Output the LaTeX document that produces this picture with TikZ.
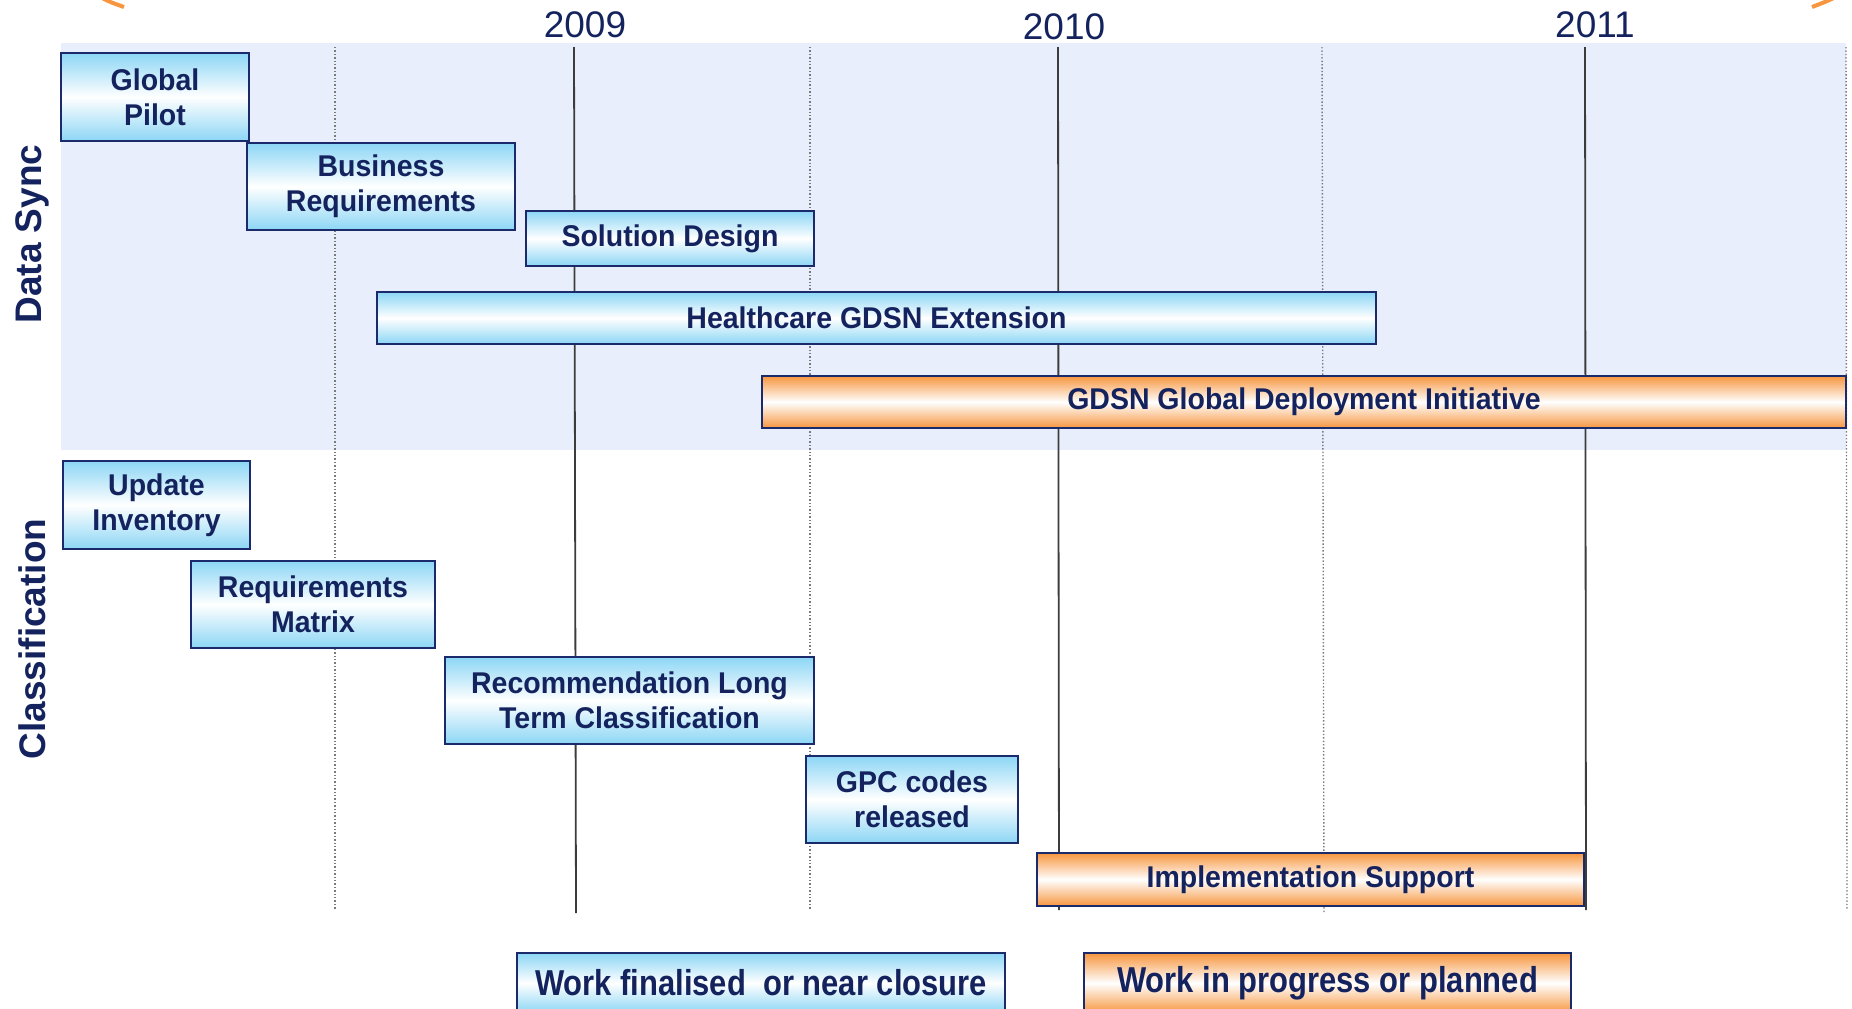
\documentclass[tikz,border=0pt]{standalone}
\usepackage{fontspec}
\setmainfont{Liberation Sans}
\newfontfamily\boxfont[FakeStretch=0.95]{Liberation Sans}
\newfontfamily\legfont[FakeStretch=0.86]{Liberation Sans}
\definecolor{navy}{HTML}{14235E}
\definecolor{boxedge}{HTML}{1B2A6B}
\definecolor{skyb}{HTML}{8CD6F5}
\definecolor{orng}{HTML}{F7963F}
\definecolor{bandc}{HTML}{E8EEFB}
\definecolor{solidg}{HTML}{3C3C3C}
\definecolor{dotg}{HTML}{7A7A7A}
\tikzset{
  taskbox/.style={draw=boxedge, line width=0.9pt, inner sep=0pt, align=center,
    text=navy, font=\boxfont\bfseries\fontsize{15}{17.7}\selectfont},
  bluebox/.style={taskbox, top color=skyb, bottom color=skyb, middle color=white},
  orangebox/.style={taskbox, top color=orng, bottom color=orng, middle color=white},
  legbox/.style={font=\legfont\bfseries\fontsize{18}{21}\selectfont},
  yearlbl/.style={text=navy, font=\fontsize{18.5}{20}\selectfont},
  grouplbl/.style={text=navy, rotate=90, font=\bfseries\fontsize{18.5}{20}\selectfont},
  solidline/.style={draw=solidg, line width=0.9pt},
  dotline/.style={draw=dotg, line width=0.7pt, densely dotted},
  arcline/.style={draw=orng, line width=2pt}
}
\begin{document}
\begin{tikzpicture}[x=0.5pt,y=-0.5pt]
\useasboundingbox (0,0) rectangle (1852,1008);
\clip (0,0) rectangle (1852,1008);
% background band
\fill[bandc] (61,43) rectangle (1846,450);
% orange arc fragments
\draw[arcline] (100,-3) .. controls (110,2) .. (124,7);
\draw[arcline] (1812,7) .. controls (1825,2) .. (1836,-3);
% year labels
\node[yearlbl] (y2009) at (585,25) {2009};
\node[yearlbl] (y2010) at (1064,27) {2010};
\node[yearlbl] (y2011) at (1595,25) {2011};
% grid lines
\coordinate (d1t) at (335,47); \coordinate (d1b) at (335,910);
\coordinate (s1t) at (574,47); \coordinate (s1b) at (576,913);
\coordinate (d2t) at (810,47); \coordinate (d2b) at (810,910);
\coordinate (s2t) at (1058,47); \coordinate (s2b) at (1059,910);
\coordinate (d3t) at (1322,47); \coordinate (d3b) at (1324,913);
\coordinate (s3t) at (1585,47); \coordinate (s3b) at (1586,910);
\coordinate (d4t) at (1846,47); \coordinate (d4b) at (1847,910);
\draw[dotline] (d1t) -- (d1b);
\draw[solidline] (s1t) -- (s1b);
\draw[dotline] (d2t) -- (d2b);
\draw[solidline] (s2t) -- (s2b);
\draw[dotline] (d3t) -- (d3b);
\draw[solidline] (s3t) -- (s3b);
\draw[dotline] (d4t) -- (d4b);
% group labels
\node[grouplbl] (gds) at (32,234) {Data Sync};
\node[grouplbl] (gcl) at (32,639) {Classification};
% Data Sync tasks
\node[bluebox, minimum width=94pt, minimum height=44pt] (gp) at (155,97) {Global\\Pilot};
\node[bluebox, minimum width=134pt, minimum height=43.5pt] (br) at (381,186.5) {Business\\Requirements};
\node[bluebox, minimum width=144pt, minimum height=27.5pt] (sd) at (670,238.5) {Solution Design};
\node[bluebox, minimum width=499.5pt, minimum height=26pt] (hc) at (876.5,318) {Healthcare GDSN Extension};
\node[orangebox, minimum width=542pt, minimum height=26pt] (gdi) at (1304,402) {GDSN Global Deployment Initiative};
% Classification tasks
\node[bluebox, minimum width=93.5pt, minimum height=44pt] (ui) at (156.5,505) {Update\\Inventory};
\node[bluebox, minimum width=122pt, minimum height=43.5pt] (rm) at (313,604.5) {Requirements\\Matrix};
\node[bluebox, minimum width=184.5pt, minimum height=43.5pt] (rec) at (629.5,700.5) {Recommendation Long\\Term Classification};
\node[bluebox, minimum width=106pt, minimum height=43.5pt] (gpc) at (912,799.5) {GPC codes\\released};
\node[orangebox, minimum width=273.5pt, minimum height=26.5pt] (is) at (1310.5,879.5) {Implementation Support};
% legend
\node[bluebox, legbox, minimum width=244pt, minimum height=30pt] (leg1) at (761,983) {Work finalised\ \ or near closure};
\node[orangebox, legbox, minimum width=243.5pt, minimum height=30pt] (leg2) at (1327.5,983) {Work in progress or planned};
\end{tikzpicture}
\end{document}
